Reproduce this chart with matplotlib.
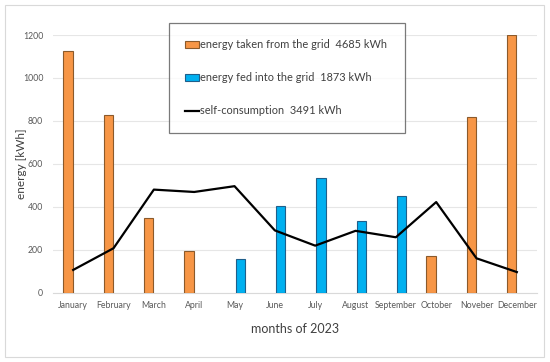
import matplotlib
matplotlib.use("Agg")
import numpy as np
from matplotlib import pyplot as plt
from matplotlib.patches import Rectangle

# Données mensuelles 2023
months = ["January", "February", "March", "April", "May", "June", "July",
          "August", "September", "October", "Noveber", "December"]
taken_from_grid = [1125, 827, 347, 196, 0, 0, 0, 0, 0, 170, 820, 1200]
fed_into_grid = [0, 0, 0, 0, 155, 403, 532, 333, 450, 0, 0, 0]
self_consumption = [106, 207, 480, 469, 496, 290, 219, 288, 258, 422, 160, 96]

label_taken = "energy taken from the grid  4685 kWh"
label_fed = "energy fed into the grid  1873 kWh"
label_self = "self-consumption  3491 kWh"

plt.rcParams['font.family'] = ['Lato', 'DejaVu Sans']

fig = plt.figure(figsize=(5.5, 3.62), dpi=100)
ax = fig.add_axes([0.0964, 0.1915, 0.88, 0.7118])

x = np.arange(len(months))
w = 0.23
# barres à zéro masquées
taken = np.array(taken_from_grid, dtype=float)
fed = np.array(fed_into_grid, dtype=float)
taken_mask = taken > 0
fed_mask = fed > 0
b1 = ax.bar(x[taken_mask] - 0.13, taken[taken_mask], width=w, color="#F79646",
            edgecolor="#8B5A2B", linewidth=0.8, label=label_taken, zorder=3)
b2 = ax.bar(x[fed_mask] + 0.145, fed[fed_mask], width=w, color="#00B0F0",
            edgecolor="#1F5F8B", linewidth=0.8, label=label_fed, zorder=3)
l1, = ax.plot(x, self_consumption, color="black", linewidth=1.6, label=label_self, zorder=4)

ax.set_xlim(-0.5, 11.5)
ax.set_ylim(0, 1200)
ax.set_yticks(np.arange(0, 1201, 200))
ax.set_xticks(x)
ax.set_xticklabels(months)
ax.grid(axis="y", color="#E6E6E6", linewidth=0.8, zorder=0)
for s in ["top", "right", "left"]:
    ax.spines[s].set_visible(False)
ax.spines["bottom"].set_color("#D9D9D9")
ax.tick_params(axis="both", length=0, labelsize=6.3, labelcolor="#595959")
ax.tick_params(axis="x", pad=6)
ax.tick_params(axis="y", pad=7)
ax.set_ylabel("energy [kWh]", fontsize=8.5, color="#404040")
ax.yaxis.set_label_coords(-0.053, 0.5)
ax.set_xlabel("months of 2023", fontsize=9, color="#404040", labelpad=9)

leg = ax.legend(handles=[b1, b2, l1], loc="upper left",
                bbox_to_anchor=(169 / 550, 1 - 122 / 362, 236 / 550, 99 / 362),
                bbox_transform=fig.transFigure, mode="expand", fontsize=7.9,
                frameon=True, fancybox=False, edgecolor="#595959",
                handlelength=1.2, handleheight=0.6, handletextpad=0.15,
                labelspacing=2.0, borderpad=1.5, borderaxespad=0)
leg.get_frame().set_linewidth(0.9)
for t in leg.get_texts():
    t.set_color("#404040")

# cadre extérieur
fig.patches.append(Rectangle((5 / 550, 5 / 362), 539 / 550, 352 / 362,
                             transform=fig.transFigure, fill=False,
                             edgecolor="#D9D9D9", linewidth=0.8))

fig.savefig("out.png", dpi=100)
